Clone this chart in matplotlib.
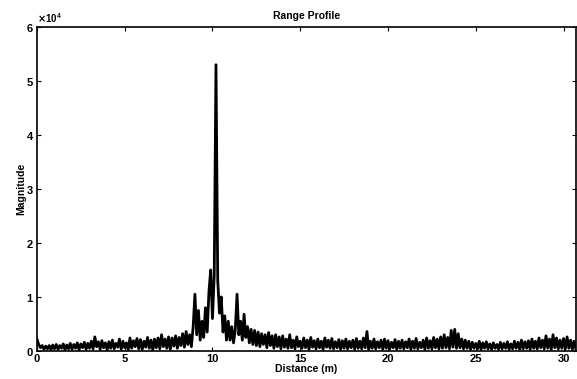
import matplotlib.pyplot as plt
import numpy as np


# range profile magnitude (x 1e4), one sample every 0.1 m
dx = 0.1
mag = [
    0.22, 0.12, 0.06, 0.10, 0.03, 0.09, 0.04, 0.10, 0.02, 0.11,
    0.04, 0.12, 0.03, 0.10, 0.05, 0.13, 0.02, 0.11, 0.04, 0.14,
    0.03, 0.12, 0.05, 0.15, 0.02, 0.13, 0.06, 0.16, 0.03, 0.14,
    0.05, 0.18, 0.04, 0.26, 0.08, 0.17, 0.03, 0.19, 0.06, 0.15,
    0.02, 0.17, 0.05, 0.20, 0.04, 0.14, 0.07, 0.22, 0.03, 0.18,
    0.06, 0.15, 0.02, 0.24, 0.05, 0.19, 0.08, 0.23, 0.04, 0.21,
    0.03, 0.18, 0.07, 0.25, 0.05, 0.20, 0.02, 0.22, 0.06, 0.24,
    0.04, 0.30, 0.08, 0.22, 0.05, 0.26, 0.03, 0.24, 0.09, 0.28,
    0.05, 0.25, 0.10, 0.32, 0.07, 0.36, 0.12, 0.30, 0.08, 0.45,
    1.05, 0.30, 0.75, 0.20, 0.55, 0.25, 0.80, 0.35, 1.10, 1.50,
    0.60, 1.40, 5.30, 1.30, 0.70, 1.00, 0.35, 0.65, 0.20, 0.55,
    0.20, 0.45, 0.15, 0.40, 1.05, 0.30, 0.55, 0.20, 0.68, 0.25,
    0.45, 0.15, 0.40, 0.12, 0.38, 0.10, 0.35, 0.08, 0.32, 0.12,
    0.30, 0.06, 0.34, 0.10, 0.28, 0.05, 0.30, 0.08, 0.26, 0.04,
    0.28, 0.07, 0.22, 0.05, 0.30, 0.06, 0.20, 0.04, 0.26, 0.08,
    0.18, 0.05, 0.24, 0.06, 0.20, 0.03, 0.25, 0.07, 0.19, 0.04,
    0.22, 0.06, 0.18, 0.03, 0.24, 0.07, 0.20, 0.05, 0.23, 0.04,
    0.17, 0.06, 0.21, 0.03, 0.19, 0.05, 0.22, 0.04, 0.18, 0.06,
    0.20, 0.03, 0.23, 0.05, 0.18, 0.04, 0.24, 0.06, 0.36, 0.03,
    0.18, 0.05, 0.22, 0.04, 0.17, 0.06, 0.20, 0.03, 0.22, 0.05,
    0.19, 0.04, 0.16, 0.06, 0.21, 0.03, 0.18, 0.05, 0.20, 0.04,
    0.17, 0.06, 0.22, 0.03, 0.18, 0.05, 0.23, 0.04, 0.16, 0.06,
    0.20, 0.03, 0.24, 0.05, 0.19, 0.04, 0.25, 0.06, 0.22, 0.04,
    0.26, 0.05, 0.30, 0.06, 0.25, 0.04, 0.38, 0.07, 0.40, 0.05,
    0.32, 0.06, 0.22, 0.04, 0.20, 0.05, 0.18, 0.03, 0.16, 0.05,
    0.14, 0.04, 0.18, 0.03, 0.15, 0.05, 0.17, 0.04, 0.13, 0.03,
    0.15, 0.05, 0.12, 0.03, 0.16, 0.04, 0.14, 0.05, 0.17, 0.03,
    0.13, 0.04, 0.18, 0.05, 0.16, 0.03, 0.20, 0.04, 0.17, 0.05,
    0.19, 0.03, 0.22, 0.05, 0.18, 0.04, 0.24, 0.06, 0.20, 0.04,
    0.28, 0.05, 0.22, 0.03, 0.30, 0.06, 0.24, 0.04, 0.20, 0.05,
    0.23, 0.04, 0.26, 0.05, 0.20, 0.03, 0.18, 0.04,
]
x_ticks = [0, 5, 10, 15, 20, 25, 30]
y_ticks = [0, 1, 2, 3, 4, 5, 6]

dist = np.arange(len(mag)) * dx
y = np.array(mag) * 1e4

plt.rcParams['font.family'] = ['Liberation Sans', 'DejaVu Sans']
plt.rcParams['font.weight'] = 'bold'

fig = plt.figure(figsize=(5.77, 3.79), dpi=100)
ax = fig.add_axes([0.064, 0.074, 0.934, 0.855])

ax.plot(dist, y, color='k', linewidth=2.0)

ax.set_xlim(0, dist[-1])
ax.set_ylim(0, 6e4)
ax.set_xticks(x_ticks)
ax.set_yticks([t * 1e4 for t in y_ticks])
ax.ticklabel_format(style='sci', axis='y', scilimits=(0, 0), useMathText=True)
ax.yaxis.get_offset_text().set_fontsize(7)
ax.yaxis.get_offset_text().set_fontweight('bold')

ax.tick_params(direction='in', top=True, right=True, labelsize=8, length=3, pad=2)
for s in ax.spines.values():
    s.set_linewidth(1.2)

ax.set_title('Range Profile', fontsize=7.5, fontweight='bold', pad=6)
ax.set_xlabel('Distance (m)', fontsize=7.5, fontweight='bold', labelpad=0)
ax.set_ylabel('Magnitude', fontsize=7.5, fontweight='bold', labelpad=0)

plt.savefig('out.png', dpi=100)
